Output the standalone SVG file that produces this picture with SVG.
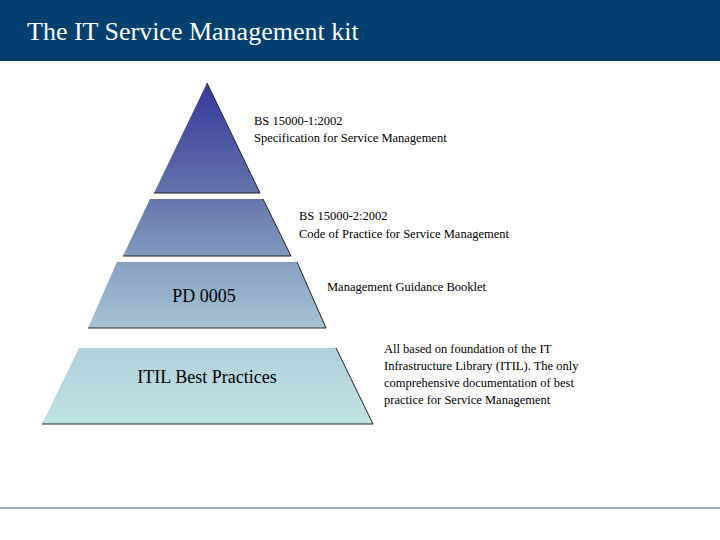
<svg xmlns="http://www.w3.org/2000/svg" width="720" height="540" viewBox="0 0 720 540">
<defs>
<linearGradient id="g" gradientUnits="userSpaceOnUse" x1="0" y1="83" x2="0" y2="424">
<stop offset="0" stop-color="#36389c"/>
<stop offset="0.33" stop-color="#6474aa"/>
<stop offset="0.55" stop-color="#8aa4c4"/>
<stop offset="0.78" stop-color="#b0d0da"/>
<stop offset="1" stop-color="#c0e3e3"/>
</linearGradient>
<style>
.lay{fill:url(#g)}
.edge{fill:none;stroke:#222;stroke-width:1}
.t{font-family:"Liberation Serif",serif;font-size:12.5px;fill:#000}
.big{font-family:"Liberation Serif",serif;font-size:18px;fill:#000}
</style>
</defs>
<rect width="720" height="540" fill="#fff"/>
<rect x="0" y="0" width="720" height="61" fill="#003f6e"/>
<text x="27" y="40" font-family="Liberation Serif,serif" font-size="26" fill="#fff">The IT Service Management kit</text>
<line x1="0" y1="508" x2="720" y2="508" stroke="#3a5a78" stroke-width="1"/>
<g id="layer1"><polygon class="lay" points="207,83 260,193 154,193"/><polyline class="edge" points="207,83 260,193 154,193"/></g>
<g id="layer2"><polygon class="lay" points="150,199 263,199 291,256 123,256"/><polyline class="edge" points="263,199 291,256 123,256"/></g>
<g id="layer3"><polygon class="lay" points="117,262 297,262 326,328 88,328"/><polyline class="edge" points="297,262 326,328 88,328"/><text class="big" x="204" y="302" text-anchor="middle">PD 0005</text></g>
<g id="layer4"><polygon class="lay" points="79,348 336,348 373,424 42,424"/><polyline class="edge" points="336,348 373,424 42,424"/><text class="big" x="207" y="383" text-anchor="middle">ITIL Best Practices</text></g>
<g id="labels">
<text class="t" x="254" y="125">BS 15000-1:2002</text>
<text class="t" x="254" y="142">Specification for Service Management</text>
<text class="t" x="299" y="220">BS 15000-2:2002</text>
<text class="t" x="299" y="238">Code of Practice for Service Management</text>
<text class="t" x="327" y="291">Management Guidance Booklet</text>
<text class="t" x="384" y="353">All based on foundation of the IT</text>
<text class="t" x="384" y="370">Infrastructure Library (ITIL). The only</text>
<text class="t" x="384" y="387">comprehensive documentation of best</text>
<text class="t" x="384" y="404">practice for Service Management</text>
</g>
<g id="connectors"></g>
</svg>
